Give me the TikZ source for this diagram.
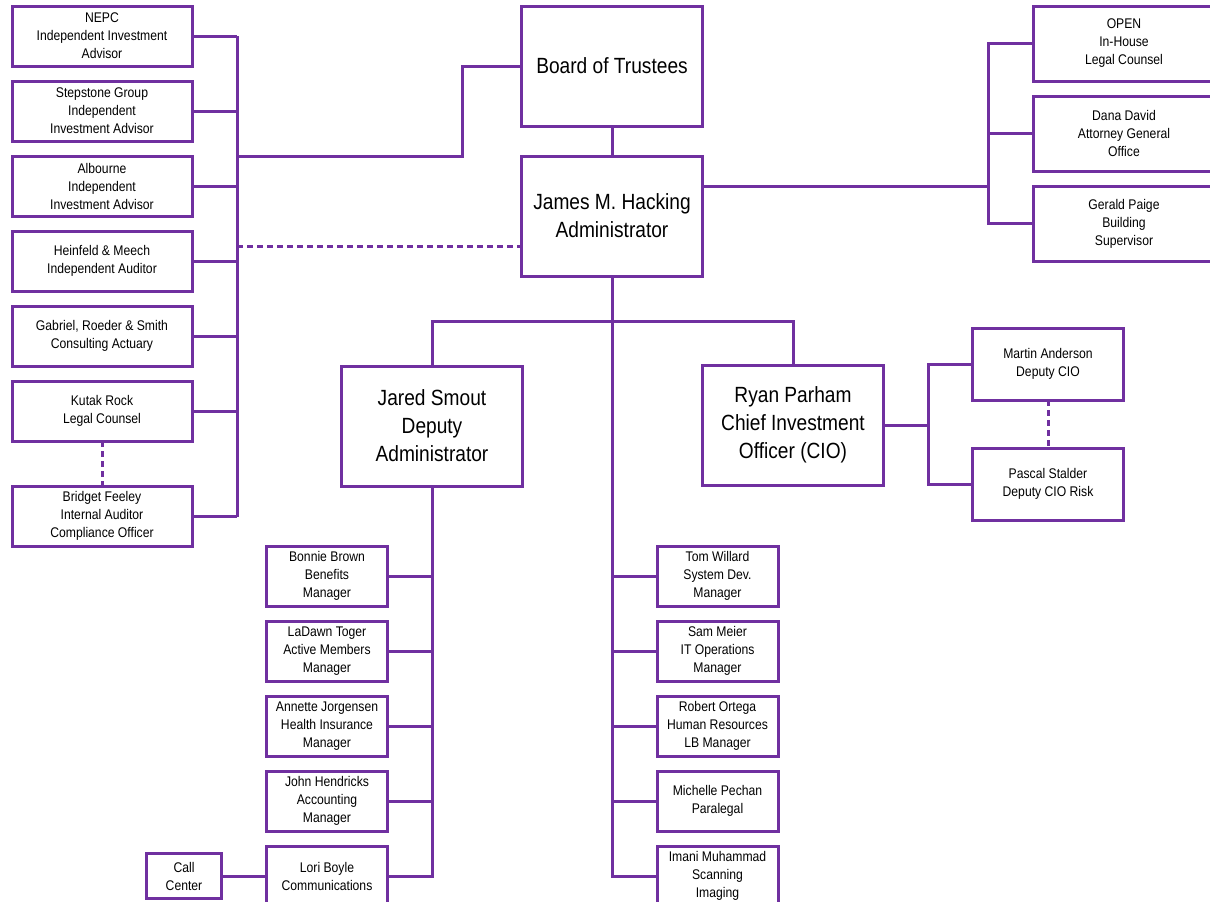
\documentclass[tikz,border=0pt]{standalone}
\usepackage{fontspec}
\usepackage{xcolor}
\usepackage{tikz}
\usetikzlibrary{positioning}
\setmainfont{Liberation Sans}
\newfontfamily\orgfont[FakeStretch=0.87]{Liberation Sans}
\definecolor{cpurple}{HTML}{7030A0}
\newcommand{\smalltxt}{\orgfont\fontsize{14}{18}\selectfont}
\newcommand{\bigtxt}{\orgfont\fontsize{22}{28}\selectfont}

\begin{document}
\begin{tikzpicture}[x=1pt, y=-1pt, node distance=15pt,
      b/.style={draw=cpurple, line width=3pt, fill=white, outer sep=0pt, inner sep=2pt, align=center, font=\smalltxt},
      bb/.style={b, font=\bigtxt, minimum width=181pt, minimum height=120pt},
      adv/.style={b, minimum width=180pt, minimum height=60pt},
      ext/.style={b, minimum width=182pt, minimum height=75pt},
      dep/.style={b, minimum width=151pt, minimum height=72pt},
      staff/.style={b, minimum width=121pt, minimum height=60pt},
      link/.style={draw=cpurple, line width=3pt},
      dotlink/.style={link, dash pattern=on 6pt off 4pt}]
    \clip (0,0) rectangle (1210,902);
    \node[bb] (board) at (612,66) {Board of Trustees};
    \node[bb, below=30pt of board] (admin) {James M. Hacking\\Administrator};
    \node[bb] (deputy) at (432,426) {Jared Smout\\Deputy\\Administrator};
    \node[bb] (cio) at (793,425) {Ryan Parham\\Chief Investment\\Officer (CIO)};
    \node[dep] (dcio) at (1048,364) {Martin Anderson\\Deputy CIO};
    \node[dep, below=48pt of dcio] (risk) {Pascal Stalder\\Deputy CIO Risk};

    \node[adv] (nepc) at (102,36) {NEPC\\Independent Investment\\Advisor};
    \node[adv, below=of nepc] (stepstone) {Stepstone Group\\Independent\\Investment Advisor};
    \node[adv, below=of stepstone] (albourne) {Albourne\\Independent\\Investment Advisor};
    \node[adv, below=of albourne] (heinfeld) {Heinfeld \& Meech\\Independent Auditor};
    \node[adv, below=of heinfeld] (gabriel) {Gabriel, Roeder \& Smith\\Consulting Actuary};
    \node[adv, below=of gabriel] (kutak) {Kutak Rock\\Legal Counsel};
    \node[adv, below=45pt of kutak] (feeley) {Bridget Feeley\\Internal Auditor\\Compliance Officer};

    \node[ext] (open) at (1124,43.5) {OPEN\\In-House\\Legal Counsel};
    \node[ext, below=of open] (dana) {Dana David\\Attorney General\\Office};
    \node[ext, below=of dana] (paige) {Gerald Paige\\Building\\Supervisor};

    \node[staff] (brown) at (327,576) {Bonnie Brown\\Benefits\\Manager};
    \node[staff, below=of brown] (toger) {LaDawn Toger\\Active Members\\Manager};
    \node[staff, below=of toger] (jorgensen) {Annette Jorgensen\\Health Insurance\\Manager};
    \node[staff, below=of jorgensen] (hendricks) {John Hendricks\\Accounting\\Manager};
    \node[staff, below=of hendricks] (boyle) {Lori Boyle\\Communications};
    \node[b, minimum width=75pt, minimum height=45pt, left=45pt of boyle] (call) {Call\\Center};

    \node[staff] (willard) at (717.5,576) {Tom Willard\\System Dev.\\Manager};
    \node[staff, below=of willard] (meier) {Sam Meier\\IT Operations\\Manager};
    \node[staff, below=of meier] (ortega) {Robert Ortega\\Human Resources\\LB Manager};
    \node[staff, below=of ortega] (pechan) {Michelle Pechan\\Paralegal};
    \node[staff, below=of pechan] (muhammad) {Imani Muhammad\\Scanning\\Imaging};

    \coordinate (ltop) at (237,36);
    \coordinate (lbot) at (237,517);
    \coordinate (ljoin) at (237,156);
    \coordinate (bjoin) at (462,66);
    \coordinate (ldash) at (237,246);
    \coordinate (rjoin) at (988,186);

    \draw[link] (ltop) -- (lbot);
    \foreach \n in {nepc,stepstone,albourne,heinfeld,gabriel,kutak,feeley}
      \draw[link] (\n.east) -- (\n.east -| ltop);
    \draw[link] (ljoin) -| (bjoin) -- (board.west);
    \draw[dotlink] (ldash) -- (ldash -| admin.west);
    \draw[dotlink] (kutak) -- (feeley);
    \draw[link] (board) -- (admin);

    \draw[link] (admin.east |- rjoin) -- (rjoin);
    \draw[link] (open.west) -| (rjoin) |- (paige.west);
    \draw[link] (dana.west) -- (dana.west -| rjoin);

    \draw[link] (admin.south) |- (muhammad.west);
    \draw[link] (deputy.north) -- ++(0,-45) -| (cio.north);
    \draw[link] (cio.east) -- ++(46,0);
    \draw[link] (dcio.west) -- ++(-44,0) |- (risk.west);
    \draw[dotlink] (dcio) -- (risk);

    \draw[link] (deputy.south) |- (boyle.east);
    \foreach \n in {brown,toger,jorgensen,hendricks}
      \draw[link] (\n.east) -- (\n.east -| deputy.south);
    \draw[link] (call) -- (boyle);
    \foreach \n in {willard,meier,ortega,pechan}
      \draw[link] (\n.west) -- (\n.west -| admin.south);
  \end{tikzpicture}
\end{document}
